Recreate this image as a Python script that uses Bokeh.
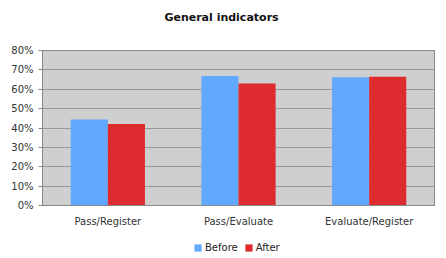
from bokeh.plotting import figure
from bokeh.layouts import column
from bokeh.models import ColumnDataSource, FactorRange, NumeralTickFormatter, Legend, LegendItem, FixedTicker, Label
from bokeh.transform import dodge
from bokeh.embed import file_html
from bokeh.resources import INLINE

title_text = "General indicators"
categories = ["Pass/Register", "Pass/Evaluate", "Evaluate/Register"]
before = [0.444, 0.668, 0.662]
after = [0.421, 0.630, 0.664]
series_names = ["Before", "After"]
series_colors = ["#61a8ff", "#dd2b2f"]
tick_values = [0, 0.1, 0.2, 0.3, 0.4, 0.5, 0.6, 0.7, 0.8]

FONT = "DejaVu Sans"

src = ColumnDataSource(dict(cat=categories, before=before, after=after))

# title strip
p0 = figure(width=446, height=44, output_backend="svg", toolbar_location=None,
            x_range=(0, 1), y_range=(0, 1))
p0.min_border = 0
p0.min_border_left = 42
p0.min_border_right = 12
p0.axis.visible = False
p0.grid.visible = False
p0.outline_line_color = None
p0.background_fill_color = "white"
p0.border_fill_color = "white"
p0.add_layout(Label(x=179, y=27, x_units="screen", y_units="screen", text=title_text,
                    text_font=FONT, text_font_size="11px", text_font_style="bold",
                    text_color="#111111", text_align="center", text_baseline="middle"))

p = figure(width=446, height=185, x_range=FactorRange(*categories, range_padding=0),
           y_range=(0, 0.8), output_backend="svg", toolbar_location=None)
p.min_border_left = 42
p.min_border_right = 12
p.min_border_top = 6
p.min_border_bottom = 20

p.background_fill_color = "#cfcfcf"
p.border_fill_color = "white"
p.outline_line_color = "#888888"
p.outline_line_width = 1

p.vbar(x=dodge("cat", -0.142, range=p.x_range), top="before", width=0.284,
       source=src, fill_color=series_colors[0], line_color=None)
p.vbar(x=dodge("cat", 0.142, range=p.x_range), top="after", width=0.284,
       source=src, fill_color=series_colors[1], line_color=None)

p.yaxis.ticker = FixedTicker(ticks=tick_values)
p.yaxis.formatter = NumeralTickFormatter(format="0%")
p.yaxis.major_label_text_font = FONT
p.yaxis.major_label_text_font_size = "10px"
p.yaxis.major_label_text_color = "#333333"
p.yaxis.axis_line_color = "#888888"
p.yaxis.major_tick_line_color = "#888888"
p.yaxis.major_tick_out = 4
p.yaxis.major_tick_in = 0
p.yaxis.minor_tick_line_color = None

p.xaxis.major_label_text_font = FONT
p.xaxis.major_label_text_font_size = "10px"
p.xaxis.major_label_text_color = "#333333"
p.xaxis.axis_line_color = "#888888"
p.xaxis.major_tick_line_color = None
p.xaxis.major_label_standoff = 4

p.xgrid.grid_line_color = None
p.ygrid.grid_line_color = "#999999"
p.ygrid.grid_line_width = 1

# legend strip (its legend glyphs come from renderers kept outside its visible range)
p2 = figure(width=446, height=29, output_backend="svg", toolbar_location=None,
            x_range=(5, 6), y_range=(5, 6))
p2.min_border = 0
p2.min_border_left = 42
p2.min_border_right = 12
p2.axis.visible = False
p2.grid.visible = False
p2.outline_line_color = None
p2.background_fill_color = "white"
p2.border_fill_color = "white"
lr1 = p2.vbar(x="before", top="before", width=0.01, source=src,
              fill_color=series_colors[0], line_color=None)
lr2 = p2.vbar(x="after", top="after", width=0.01, source=src,
              fill_color=series_colors[1], line_color=None)

legend = Legend(items=[LegendItem(label=series_names[0], renderers=[lr1]),
                       LegendItem(label=series_names[1], renderers=[lr2])],
                orientation="horizontal", location=(151, 5))
legend.label_text_font = FONT
legend.label_text_font_size = "10px"
legend.label_text_color = "#222222"
legend.glyph_width = 9
legend.glyph_height = 9
legend.label_height = 10
legend.spacing = 6
legend.label_standoff = 3
legend.padding = 0
legend.margin = 0
legend.border_line_color = None
legend.background_fill_alpha = 0
p2.add_layout(legend, "center")

layout = column(p0, p, p2, spacing=0)
open("out.html", "w").write(file_html(layout, INLINE))
